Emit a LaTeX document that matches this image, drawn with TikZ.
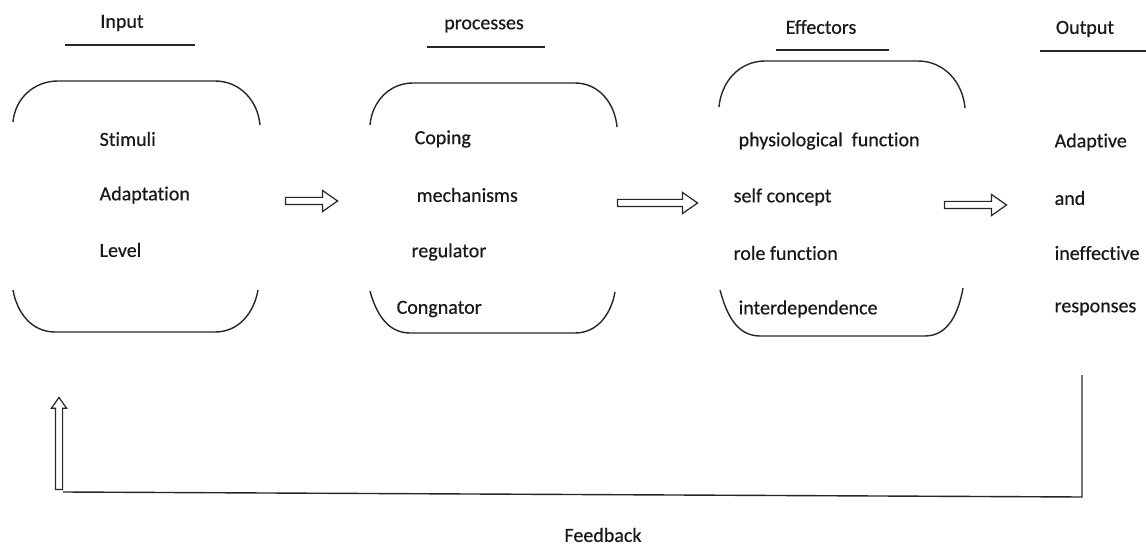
\documentclass[tikz,border=0pt]{standalone}
\usepackage{fontspec}
\setmainfont{Carlito}[Ligatures=NoCommon, FakeBold=0.5]
\usetikzlibrary{shapes.arrows}
\begin{document}
\begin{tikzpicture}[x=1pt,y=-1pt,
  line width=1.3pt,
  every node/.style={font=\fontsize{20}{24}\selectfont, inner sep=0pt, text=black!90},
  lbl/.style={anchor=west},
  ttl/.style={anchor=center},
  outline/.style={draw=black!85, line width=1.4pt},
  harrow/.style={single arrow, draw=black!85, line width=1.2pt, inner xsep=0pt, inner ysep=3pt,
     single arrow head extend=7pt, single arrow head indent=0pt, single arrow tip angle=70}
]
\useasboundingbox (0,0) rectangle (1146,545);
% titles
\node[ttl] (tin) at (122,23) {Input};
\node[ttl] (tpr) at (484,26) {processes};
\node[ttl] (tef) at (821,27) {Effectors};
\node[ttl] (tout) at (1085,29) {Output};
\draw[outline] (65,45) -- (195,45);
\draw[outline] (427,47) -- (545,47);
\draw[outline] (776,50) -- (889,50);
\draw[outline] (1040,51) -- (1146,51);
% box 1
\draw[outline] (13,122) to[out=85,in=180] (58,81) -- (215,81) to[out=0,in=95] (260,125);
\draw[outline] (13,290) to[out=-80,in=180] (55,332) -- (215,332) to[out=0,in=-100] (258,290);
% box 2
\draw[outline] (370,125) to[out=85,in=180] (413,83) -- (575,83) to[out=0,in=95] (617,127);
\draw[outline] (370,291) to[out=-75,in=180] (410,333) -- (575,333) to[out=0,in=-100] (615,292);
% box 3
\draw[outline] (719,107) to[out=85,in=180] (765,61) -- (918,61) to[out=0,in=95] (965,108);
\draw[outline] (720,290) to[out=-75,in=180] (760,336) -- (925,336) to[out=0,in=-100] (963,288);
% texts
\node[lbl] (s1) at (99,139) {Stimuli};
\node[lbl] (s2) at (99,195) {Adaptation};
\node[lbl] (s3) at (99,250) {Level};
\node[lbl] (p1) at (414,139) {Coping};
\node[lbl] (p2) at (416,195) {mechanisms};
\node[lbl] (p3) at (411,252) {regulator};
\node[lbl] (p4) at (396,309) {Congnator};
\node[lbl] (e1) at (738,141) {physiological\ \ function};
\node[lbl] (e2) at (733,197) {self concept};
\node[lbl] (e3) at (733,253) {role function};
\node[lbl] (e4) at (738,309) {interdependence};
\node[lbl] (o1) at (1054,142) {Adaptive};
\node[lbl] (o2) at (1054,198) {and};
\node[lbl] (o3) at (1054,253) {ineffective};
\node[lbl] (o4) at (1054,309) {responses};
% arrows
\node[harrow, minimum height=52pt] (a1) at (309,201) {};
\node[harrow, minimum height=80pt] (a2) at (655,203) {};
\node[harrow, minimum height=62pt] (a3) at (973,205) {};
\node[harrow, rotate=90, minimum height=92pt, single arrow head extend=4pt] (a4) at (59,446) {};
% feedback
\coordinate (fbtop) at (1082,375);
\coordinate (fbcorner) at (1082,497);
\coordinate (fbleft) at (63,492);
\draw[outline] (fbtop) -- (fbcorner) -- (fbleft);
\node[ttl] (fb) at (603,535) {Feedback};
\end{tikzpicture}
\end{document}
